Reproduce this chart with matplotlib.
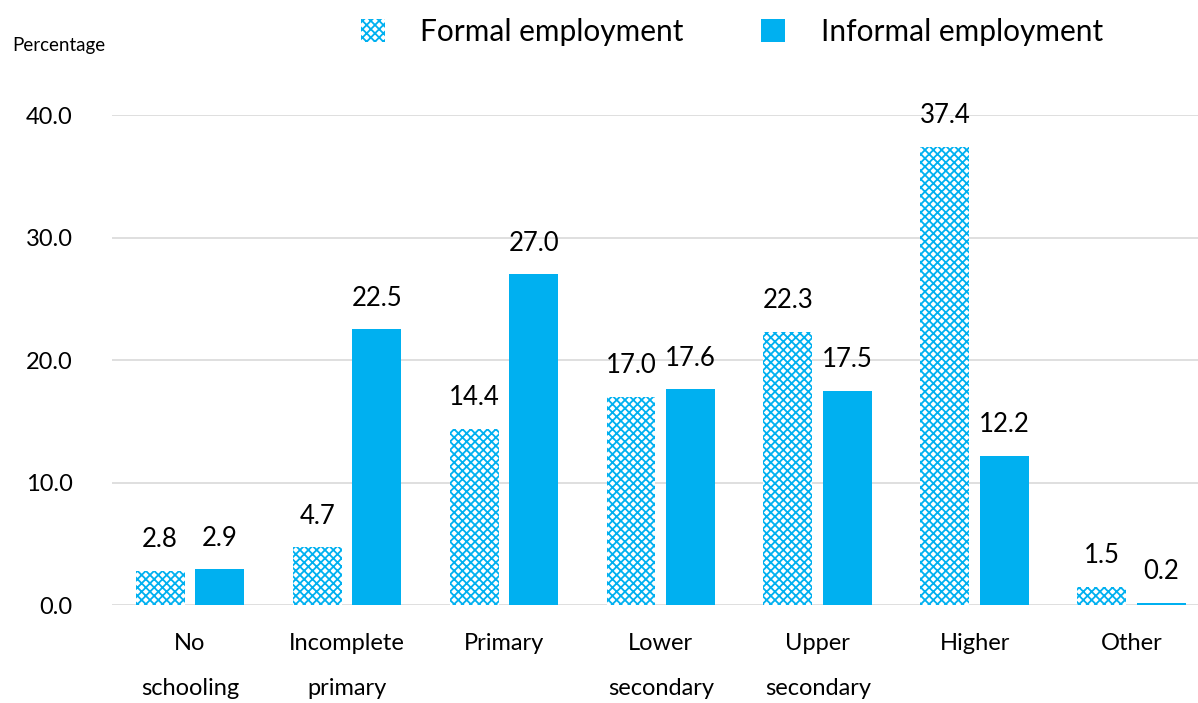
import numpy as np
import matplotlib
matplotlib.use('Agg')
import matplotlib.pyplot as plt

categories = ['No\nschooling', 'Incomplete\nprimary', 'Primary', 'Lower\nsecondary',
              'Upper\nsecondary', 'Higher', 'Other']
formal = [2.8, 4.7, 14.4, 17.0, 22.3, 37.4, 1.5]
informal = [2.9, 22.5, 27.0, 17.6, 17.5, 12.2, 0.2]
yticks = [0, 10, 20, 30, 40]

BLUE = '#00B0F0'
plt.rcParams['font.family'] = ['Lato', 'DejaVu Sans']
plt.rcParams['hatch.linewidth'] = 1.3

fig = plt.figure(figsize=(11.98, 7.03), dpi=100)
ax = fig.add_axes([0.0931, 0.1394, 0.917, 0.697])

x = np.arange(len(categories))
w = 0.312
off = 0.19
b1 = ax.bar(x - off, formal, w, facecolor='white', edgecolor=BLUE, hatch='xxxx',
            linewidth=0, label='Formal employment')
b2 = ax.bar(x + off, informal, w, color=BLUE, label='Informal employment')

for bars in (b1, b2):
    for r in bars:
        ax.text(r.get_x() + r.get_width() / 2, r.get_height() + 1.5, f'{r.get_height():.1f}',
                ha='center', va='bottom', fontsize=18.5, color='black', clip_on=False)

ax.set_xlim(-0.5, len(categories) - 0.5)
ax.set_ylim(0, 40)
ax.set_yticks(yticks)
ax.set_yticklabels([f'{v:.1f}' for v in yticks], fontsize=17)
ax.set_xticks(x)
ax.set_xticklabels(categories, fontsize=17, linespacing=2.45, va='top')
ax.tick_params(axis='x', length=0, pad=20)
ax.tick_params(axis='y', length=0, pad=28)
ax.grid(axis='y', color='#D9D9D9', linewidth=1.2)
ax.set_axisbelow(True)
for s in ax.spines.values():
    s.set_visible(False)

fig.text(0.01, 0.935, 'Percentage', fontsize=13.5, ha='left', va='center')
fig.legend(handles=[b1, b2], loc='center', bbox_to_anchor=(0.611, 0.955), ncol=2,
           frameon=False, fontsize=21.5, handlelength=0.8, handleheight=0.8,
           columnspacing=2.6, handletextpad=1.2)

fig.savefig('out.png', dpi=100)
